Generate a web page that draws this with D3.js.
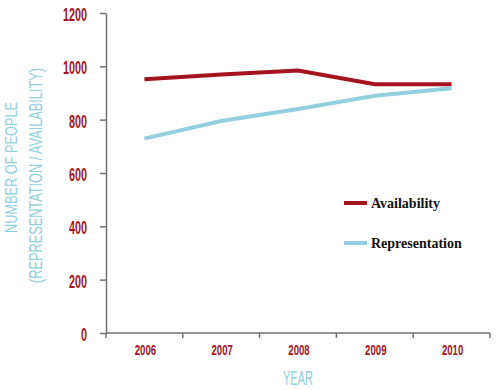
<!DOCTYPE html>
<html lang="en">
<head>
<meta charset="utf-8">
<title>Availability vs Representation</title>
<script src="https://d3js.org/d3.v7.min.js"></script>
<style>
body { margin: 0; background: #fff; }
.axis path, .axis line { stroke: #707070; stroke-width: 1.5px; }
.axis text { font-family: "Liberation Sans", "DejaVu Sans", sans-serif; font-weight: bold; fill: #a3141c; }
.title { font-family: "Liberation Sans", "DejaVu Sans", sans-serif; fill: #93cfe0; }
.legend text { font-family: "Liberation Serif", serif; font-size: 14px; font-weight: bold; fill: #111; }
</style>
</head>
<body>
<script>
var years = ["2006", "2007", "2008", "2009", "2010"];
var availability = [952, 969, 984, 933, 933];
var representation = [729, 795, 840, 890, 918];
var yTicks = [0, 200, 400, 600, 800, 1000, 1200];
var seriesNames = ["Availability", "Representation"];
var seriesColors = ["#a3141c", "#93cfe0"];

var w = 500, h = 390;
var mLeft = 106, mRight = 490, mTop = 13, mBottom = 333;

var svg = d3.select("body").append("svg")
  .attr("width", w).attr("height", h);

// squeeze a text horizontally to mimic a condensed face
function condense(sel, k) {
  sel.each(function(){
    var len = this.getComputedTextLength();
    d3.select(this).attr("textLength", len * k).attr("lengthAdjust", "spacingAndGlyphs");
  });
}

var xBand = d3.scaleBand().domain(years).range([mLeft, mRight]);
var xScale = d3.scalePoint().domain(years).range([mLeft, mRight]).padding(0.5);
var yScale = d3.scaleLinear().domain([0, 1200]).range([mBottom, mTop]);

// x axis: ticks on band boundaries, labels centred
var xg = svg.append("g").attr("class", "axis");
xg.append("line").attr("x1", mLeft).attr("x2", mRight).attr("y1", mBottom).attr("y2", mBottom);
xg.selectAll("line.tk")
  .data(years.concat(["end"]))
  .enter().append("line").attr("class", "tk")
  .attr("x1", function(d, i){ return i < years.length ? xBand(d) : mRight; })
  .attr("x2", function(d, i){ return i < years.length ? xBand(d) : mRight; })
  .attr("y1", mBottom).attr("y2", mBottom + 5);
xg.selectAll("text")
  .data(years)
  .enter().append("text")
  .attr("x", function(d){ return xScale(d) + 1; })
  .attr("y", mBottom + 22)
  .attr("text-anchor", "middle")
  .style("font-size", "15.5px")
  .text(function(d){ return d; })
  .call(condense, 0.62);

var yAxis = d3.axisLeft(yScale).tickValues(yTicks).tickSize(6).tickPadding(13)
  .tickSizeOuter(0).tickFormat(d3.format("d"));
svg.append("g").attr("class", "axis")
   .attr("transform", "translate(" + mLeft + ",0)")
   .call(yAxis)
   .selectAll("text")
   .attr("dy", "0.42em")
   .style("font-size", "18px")
   .call(condense, 0.6);

// lines
var line = d3.line()
  .x(function(d, i){ return xScale(years[i]); })
  .y(function(d){ return yScale(d); });

[availability, representation].forEach(function(s, k){
  svg.append("path")
     .datum(s)
     .attr("d", line)
     .attr("fill", "none")
     .attr("stroke", seriesColors[k])
     .attr("stroke-width", 4);
});

// legend
var lg = svg.append("g").attr("class", "legend");
seriesNames.forEach(function(n, k){
  var y = 203 + k * 40;
  lg.append("line").attr("x1", 344).attr("x2", 367).attr("y1", y).attr("y2", y)
    .attr("stroke", seriesColors[k]).attr("stroke-width", 4);
  lg.append("text").attr("x", 371).attr("y", y + 5).text(n);
});

// axis titles
svg.append("text").attr("class", "title")
   .attr("x", 298).attr("y", 385)
   .attr("text-anchor", "middle").style("font-size", "20px")
   .text("YEAR")
   .attr("textLength", 30).attr("lengthAdjust", "spacingAndGlyphs");

svg.append("text").attr("class", "title")
   .attr("transform", "translate(17,167.5) rotate(-90)")
   .attr("text-anchor", "middle").style("font-size", "17px")
   .text("NUMBER OF PEOPLE")
   .attr("textLength", 131).attr("lengthAdjust", "spacingAndGlyphs");
svg.append("text").attr("class", "title")
   .attr("transform", "translate(42,175.5) rotate(-90)")
   .attr("text-anchor", "middle").style("font-size", "19px")
   .text("(REPRESENTATION / AVAILABILITY)")
   .attr("textLength", 215).attr("lengthAdjust", "spacingAndGlyphs");
</script>
</body>
</html>
